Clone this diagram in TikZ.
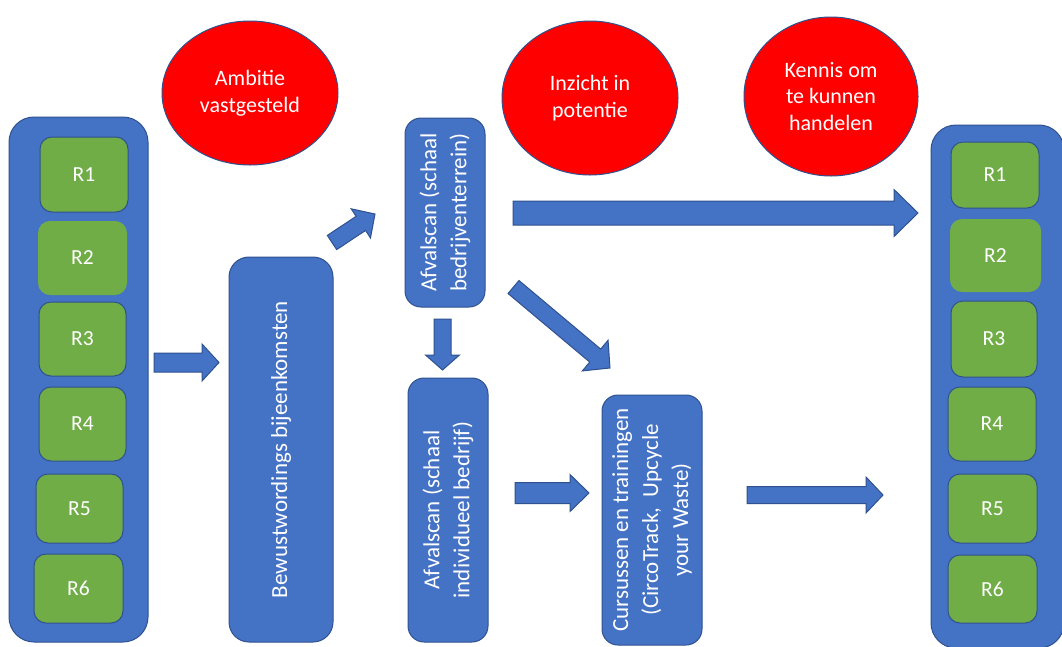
\documentclass[tikz,border=0pt]{standalone}
\usepackage{fontspec}
\setmainfont{Carlito}
\usetikzlibrary{calc,shapes.geometric}
\definecolor{pblue}{HTML}{4472C4}
\definecolor{pedge}{HTML}{2F528F}
\definecolor{pgreen}{HTML}{70AD47}
\definecolor{pred}{HTML}{FF0000}
\tikzset{
  bigbox/.style={draw=pedge, fill=pblue, line width=1pt, rounded corners=25pt},
  rbox/.style={draw=pedge, fill=pgreen, line width=1pt, rounded corners=12pt, text=white,
    inner sep=0pt, font=\fontsize{21.5}{25}\selectfont},
  rboxplain/.style={rbox, draw=none},
  vbox/.style={draw=pedge, fill=pblue, line width=1pt, rounded corners=16pt, text=white,
    rotate=90, inner sep=0pt, align=center, font=\fontsize{23}{30}\selectfont},
  circ/.style={ellipse, draw=pedge, fill=pred, line width=1pt, text=white, inner sep=0pt,
    align=center, font=\fontsize{22}{26.5}\selectfont},
  arrowshape/.style={draw=pedge, fill=pblue, line width=1pt, line join=miter},
}
\newcommand{\blockarrow}[5]{%
  \filldraw[arrowshape] let \p1=(#1), \p2=(#2),
    \n1={atan2(\y2-\y1,\x2-\x1)}, \n2={veclen(\x2-\x1,\y2-\y1)-#5} in
    ($(\p1)+(\n1+90:#3pt)$) -- ($(\p1)+(\n1:\n2)+(\n1+90:#3pt)$)
    -- ($(\p1)+(\n1:\n2)+(\n1+90:#4pt)$) -- (\p2)
    -- ($(\p1)+(\n1:\n2)+(\n1-90:#4pt)$) -- ($(\p1)+(\n1:\n2)+(\n1-90:#3pt)$)
    -- ($(\p1)+(\n1-90:#3pt)$) -- cycle;
}
\begin{document}
\begin{tikzpicture}[x=1pt,y=-1pt]
\clip (0,0) rectangle (1062,646);
\fill[white] (0,0) rectangle (1062,646);

% left column
\node[bigbox, minimum width=139pt, minimum height=525pt, inner sep=0pt] (left) at (78.5,379.5) {};
\node[rbox, minimum width=88pt, minimum height=75pt] (L1) at (84,174.5) {R1};
\node[rboxplain, minimum width=89pt, minimum height=74pt] (L2) at (82.5,258) {R2};
\node[rbox, minimum width=87pt, minimum height=74pt] (L3) at (82.5,339) {R3};
\node[rbox, minimum width=87pt, minimum height=74pt] (L4) at (82.5,424) {R4};
\node[rbox, minimum width=87pt, minimum height=69pt] (L5) at (79.5,508.5) {R5};
\node[rbox, minimum width=89pt, minimum height=69pt] (L6) at (78.5,588.5) {R6};

% right column
\node[bigbox, minimum width=133pt, minimum height=523pt, inner sep=0pt] (right) at (997.5,386.5) {};
\node[rbox, minimum width=88pt, minimum height=66pt] (G1) at (995,175) {R1};
\node[rboxplain, minimum width=91pt, minimum height=73pt] (G2) at (995.5,255.5) {R2};
\node[rbox, minimum width=86pt, minimum height=76pt] (G3) at (994,339) {R3};
\node[rbox, minimum width=88pt, minimum height=74pt] (G4) at (992,424) {R4};
\node[rbox, minimum width=89pt, minimum height=69pt] (G5) at (992.5,508.5) {R5};
\node[rbox, minimum width=89pt, minimum height=68pt] (G6) at (992.5,589) {R6};

% vertical process boxes (rotated text)
\node[vbox, rounded corners=20pt, minimum width=385pt, minimum height=104pt] (bew) at (281,449.5) {Bewustwordings bijeenkomsten};
\node[vbox, minimum width=189pt, minimum height=80pt] (afv1) at (445,212.5) {Afvalscan (schaal\\bedrijventerrein)};
\node[vbox, minimum width=264pt, minimum height=80pt] (afv2) at (448,510) {Afvalscan (schaal\\individueel bedrijf)};
\node[vbox, minimum width=250pt, minimum height=100pt] (cur) at (652,520) {Cursussen en trainingen\\(CircoTrack,\ \ Upcycle\\your Waste)};

% red circles
\node[circ, minimum width=176pt, minimum height=144pt] (amb) at (250,93) {Ambitie\\vastgesteld};
\node[circ, minimum width=176pt, minimum height=154pt] (inz) at (590,98) {Inzicht in\\potentie};
\node[circ, minimum width=174pt, minimum height=159pt] (ken) at (831,96.5) {Kennis om\\te kunnen\\handelen};

% block arrows
\coordinate (a1s) at (154,362.5); \coordinate (a1e) at (219,362.5);
\coordinate (a2s) at (332,242.5); \coordinate (a2e) at (375,214);
\coordinate (a3s) at (513,213);   \coordinate (a3e) at (918,213);
\coordinate (a4s) at (442.5,319); \coordinate (a4e) at (442.5,370);
\coordinate (a5s) at (513.5,287); \coordinate (a5e) at (610,368);
\coordinate (a6s) at (515,493);   \coordinate (a6e) at (589,493);
\coordinate (a7s) at (747,495);   \coordinate (a7e) at (883,495);
\blockarrow{a1s}{a1e}{9.5}{18.5}{17}
\blockarrow{a2s}{a2e}{8.5}{17.5}{17}
\blockarrow{a3s}{a3e}{12}{23.5}{24}
\blockarrow{a4s}{a4e}{8.5}{17}{15}
\blockarrow{a5s}{a5e}{8.5}{20}{19}
\blockarrow{a6s}{a6e}{10.5}{18.5}{19}
\blockarrow{a7s}{a7e}{8.5}{18}{17}
\end{tikzpicture}
\end{document}
